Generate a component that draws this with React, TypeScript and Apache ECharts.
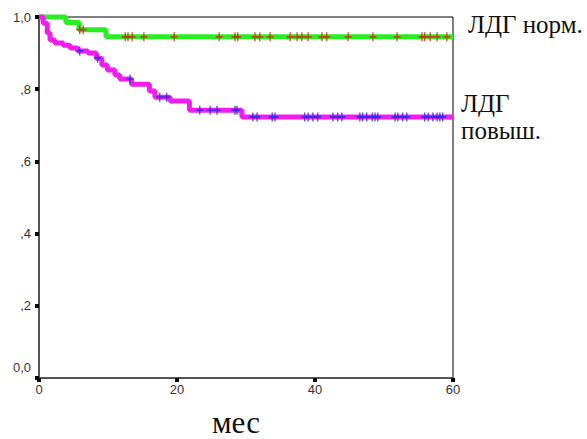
import React, { useEffect, useRef } from "react";
import * as echarts from "echarts";

// Kaplan–Meier step points: [month, survival]
const normSteps: [number, number][] = [
  [0, 1.0],
  [3.9, 0.985],
  [5.8, 0.965],
  [9.7, 0.945],
  [60, 0.945],
];
const normCensored: number[] = [
  5.9, 6.4, 12.5, 12.9, 13.5, 15.2, 19.6, 26.1, 28.4, 28.8, 31.3, 32.0, 33.5,
  36.4, 37.4, 38.1, 39.0, 41.0, 41.7, 44.8, 48.4, 51.9, 55.5, 55.9, 56.7, 57.7,
  59.1,
];

const highSteps: [number, number][] = [
  [0, 1.0],
  [0.6, 0.983],
  [1.2, 0.956],
  [1.6, 0.936],
  [2.3, 0.928],
  [3.5, 0.922],
  [4.5, 0.914],
  [5.6, 0.906],
  [7.1, 0.9],
  [8.3, 0.886],
  [9.1, 0.867],
  [9.9, 0.853],
  [11.0, 0.839],
  [11.7, 0.828],
  [13.4, 0.814],
  [16.0, 0.795],
  [16.8, 0.778],
  [19.0, 0.767],
  [21.8, 0.742],
  [29.4, 0.723],
  [60, 0.723],
];
const highCensored: number[] = [
  5.9, 8.5, 13.2, 17.5, 18.5, 23.3, 24.8, 25.8, 28.4, 28.7, 31.0, 31.6, 33.8,
  34.2, 38.5, 39.0, 39.7, 40.4, 42.6, 43.3, 43.9, 46.5, 46.9, 47.5, 48.3, 48.7,
  49.1, 51.6, 52.0, 52.7, 53.3, 55.9, 56.4, 57.1, 57.7, 58.1, 58.5,
];

const xTicks = [0, 20, 40, 60];
const yTickLabels = ["0,0", ",2", ",4", ",6", ",8", "1,0"];
const legendNorm = "ЛДГ норм.";
const legendHigh1 = "ЛДГ";
const legendHigh2 = "повыш.";
const xName = "мес";

function survivalAt(steps: [number, number][], t: number): number {
  let v = steps[0][1];
  for (const [x, y] of steps) {
    if (x <= t) v = y;
  }
  return v;
}

const plusPath = "path://M4,0H6V4H10V6H6V10H4V6H0V4H4Z";
const serif = "Liberation Serif, Times New Roman, serif";
const sans = "Liberation Sans, Arial, sans-serif";

export default function App() {
  const ref = useRef<HTMLDivElement>(null);
  useEffect(() => {
    if (!ref.current) return;
    const chart = echarts.init(ref.current, undefined, { renderer: "svg" });
    chart.setOption({
      animation: false,
      backgroundColor: "#fff",
      grid: {
        left: 39,
        right: 134,
        top: 17,
        bottom: 61,
        show: true,
        borderColor: "#000",
        borderWidth: 1,
        backgroundColor: "transparent",
      },
      xAxis: {
        type: "value",
        min: 0,
        max: 60,
        interval: 20,
        splitLine: { show: false },
        axisLine: { show: true, lineStyle: { color: "#555", width: 2 } },
        axisTick: { show: true, length: 4, lineStyle: { color: "#000", width: 4 } },
        axisLabel: {
          color: "#333",
          fontFamily: sans,
          fontSize: 13,
          margin: 5,
          formatter: (v: number) => (xTicks.includes(v) ? String(v) : ""),
        },
      },
      yAxis: {
        type: "value",
        min: 0,
        max: 1,
        interval: 0.2,
        splitLine: { show: false },
        axisLine: { show: true, lineStyle: { color: "#555", width: 2 } },
        axisTick: { show: true, length: 4, lineStyle: { color: "#000", width: 4 } },
        axisLabel: {
          color: "#333",
          fontFamily: sans,
          fontSize: 13,
          margin: 8,
          verticalAlign: "middle",
          formatter: (v: number) => {
            const i = Math.round(v * 5);
            const s = yTickLabels[i] ?? "";
            return i === 0 ? "{z|" + s + "}" : s;
          },
          rich: {
            z: {
              color: "#333",
              fontFamily: sans,
              fontSize: 13,
              padding: [0, 0, 22, 0],
            },
          },
        },
      },
      series: [
        {
          type: "line",
          step: "end",
          data: normSteps,
          showSymbol: false,
          clip: false,
          lineStyle: { color: "#2aee22", width: 5 },
          z: 2,
        },
        {
          type: "line",
          step: "end",
          data: highSteps,
          showSymbol: false,
          clip: false,
          lineStyle: { color: "#f21cf0", width: 5 },
          z: 2,
        },
        {
          type: "scatter",
          data: normCensored.map((t) => [t, survivalAt(normSteps, t)]),
          symbol: plusPath,
          symbolSize: [7, 9],
          itemStyle: { color: "#cc2a10" },
          clip: false,
          z: 3,
        },
        {
          type: "scatter",
          data: highCensored.map((t) => [t, survivalAt(highSteps, t)]),
          symbol: plusPath,
          symbolSize: [7, 9],
          itemStyle: { color: "#2b2be0" },
          clip: false,
          z: 3,
        },
      ],
      graphic: [
        {
          type: "text",
          left: 468,
          top: 12,
          style: { text: legendNorm, fontFamily: serif, fontSize: 25, fill: "#111" },
        },
        {
          type: "text",
          left: 461,
          top: 91,
          style: { text: legendHigh1, fontFamily: serif, fontSize: 25, fill: "#111" },
        },
        {
          type: "text",
          left: 461,
          top: 118,
          style: { text: legendHigh2, fontFamily: serif, fontSize: 25, fill: "#111" },
        },
        {
          type: "text",
          left: 212,
          top: 407,
          style: { text: xName, fontFamily: serif, fontSize: 31, fill: "#111" },
        },
      ],
    });
    return () => chart.dispose();
  }, []);
  return <div ref={ref} style={{ width: 587, height: 439, position: "absolute", left: 0, top: 0 }} />;
}
